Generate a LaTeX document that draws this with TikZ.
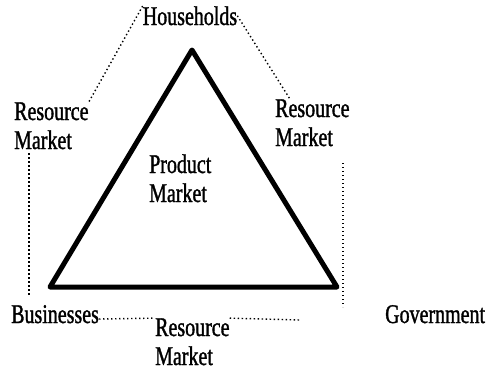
\documentclass[tikz,border=0pt]{standalone}
\usepackage{fontspec}
\setmainfont{Liberation Serif}[FakeStretch=0.74,FakeBold=1.2]
\usetikzlibrary{positioning,calc}
\tikzset{
lbl/.style = {inner sep=0pt, align=left, font=\fontsize{27}{29}\selectfont},
dotline/.style = {line width=1.4pt, dash pattern=on 1.4pt off 2.6pt},
tri/.style = {line width=5pt, line join=round},
}
\begin{document}
\begin{tikzpicture}[x=1pt,y=-1pt]
\useasboundingbox (0,0) rectangle (488,373);
% market triangle
\coordinate (apex) at (192,50);
\coordinate (bleft) at (50,287);
\coordinate (bright) at (337,287);
\draw[tri] (apex) -- (bleft) -- (bright) -- cycle;
% sectors and markets
\node[lbl, anchor=base] (hh) at (190,25) {Households};
\node[lbl, anchor=base west] (rmleft) at (14,149) {Resource\\Market};
\node[lbl, anchor=base west] (rmright) at (275,146) {Resource\\Market};
\node[lbl, anchor=base west] (prod) at (149,202) {Product\\Market};
\node[lbl, anchor=base west] (bus) at (11,323) {Businesses};
\node[lbl, anchor=base west] (rmbottom) at (155,365) {Resource\\Market};
\node[lbl, anchor=base west] (gov) at (385,323) {Government};
\coordinate (rtop) at (343,163);
\coordinate (rend) at (343,307);
\coordinate (bend) at (300,320);
% dotted links
\draw[dotline] (hh.north west) -- (rmleft.north east);
\draw[dotline] (hh.east) -- ([xshift=15pt]rmright.north west);
\draw[dotline] ([xshift=15pt,yshift=-4pt]rmleft.south west) -- ([xshift=18pt,yshift=8pt]bus.north west);
\draw[dotline] (rtop) -- (rend);
\draw[dotline] ([yshift=4pt]bus.base east) -- (rmbottom.north west);
\draw[dotline] (rmbottom.north east) -- (bend);
\end{tikzpicture}
\end{document}
